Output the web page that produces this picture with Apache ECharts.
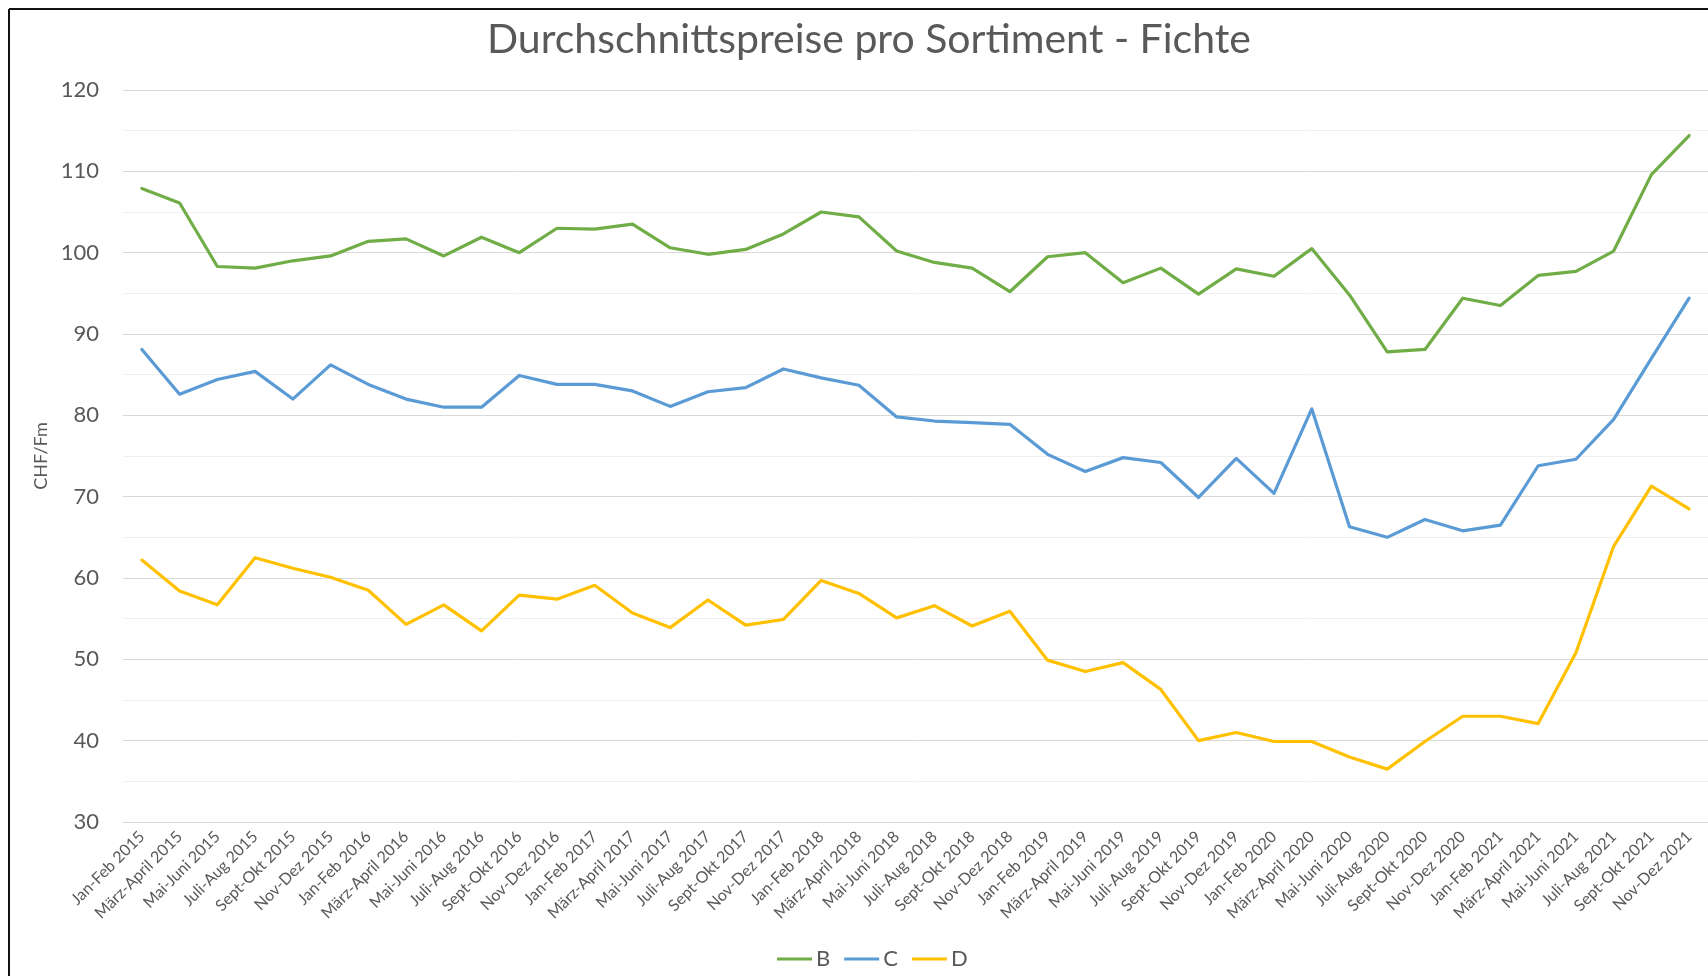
<!DOCTYPE html>
<html>
<head>
<meta charset="utf-8">
<title>Durchschnittspreise pro Sortiment - Fichte</title>
<script src="https://cdn.jsdelivr.net/npm/echarts@6/dist/echarts.min.js"></script>
<style>
  html, body { margin: 0; padding: 0; background: #fff; }
  #main { width: 1708px; height: 976px; }
</style>
</head>
<body>
<div id="main"></div>
<script>
// Kategorien (zweimonatlich)
const categories = [
  "Jan-Feb 2015", "März-April 2015", "Mai-Juni 2015", "Juli-Aug 2015", "Sept-Okt 2015", "Nov-Dez 2015",
  "Jan-Feb 2016", "März-April 2016", "Mai-Juni 2016", "Juli-Aug 2016", "Sept-Okt 2016", "Nov-Dez 2016",
  "Jan-Feb 2017", "März-April 2017", "Mai-Juni 2017", "Juli-Aug 2017", "Sept-Okt 2017", "Nov-Dez 2017",
  "Jan-Feb 2018", "März-April 2018", "Mai-Juni 2018", "Juli-Aug 2018", "Sept-Okt 2018", "Nov-Dez 2018",
  "Jan-Feb 2019", "März-April 2019", "Mai-Juni 2019", "Juli-Aug 2019", "Sept-Okt 2019", "Nov-Dez 2019",
  "Jan-Feb 2020", "März-April 2020", "Mai-Juni 2020", "Juli-Aug 2020", "Sept-Okt 2020", "Nov-Dez 2020",
  "Jan-Feb 2021", "März-April 2021", "Mai-Juni 2021", "Juli-Aug 2021", "Sept-Okt 2021", "Nov-Dez 2021"
];

const seriesNames = ["B", "C", "D"];

const valuesB = [
  107.9, 106.1, 98.3, 98.1, 99.0, 99.6,
  101.4, 101.7, 99.6, 101.9, 100.0, 103.0,
  102.9, 103.5, 100.6, 99.8, 100.4, 102.3,
  105.0, 104.4, 100.2, 98.8, 98.1, 95.2,
  99.5, 100.0, 96.3, 98.1, 94.9, 98.0,
  97.1, 100.5, 94.8, 87.8, 88.1, 94.4,
  93.5, 97.2, 97.7, 100.2, 109.6, 114.4
];

const valuesC = [
  88.1, 82.6, 84.4, 85.4, 82.0, 86.2,
  83.8, 82.0, 81.0, 81.0, 84.9, 83.8,
  83.8, 83.0, 81.1, 82.9, 83.4, 85.7,
  84.6, 83.7, 79.8, 79.3, 79.1, 78.9,
  75.2, 73.1, 74.8, 74.2, 69.9, 74.7,
  70.4, 80.8, 66.3, 65.0, 67.2, 65.8,
  66.5, 73.8, 74.6, 79.5, 87.0, 94.4
];

const valuesD = [
  62.2, 58.4, 56.7, 62.5, 61.2, 60.1,
  58.5, 54.3, 56.7, 53.5, 57.9, 57.4,
  59.1, 55.7, 53.9, 57.3, 54.2, 54.9,
  59.7, 58.1, 55.1, 56.6, 54.1, 55.9,
  49.9, 48.5, 49.6, 46.3, 40.0, 41.0,
  39.9, 39.9, 38.0, 36.5, 39.9, 43.0,
  43.0, 42.1, 50.8, 63.9, 71.3, 68.5
];

const colors = ["#70AD47", "#5B9BD5", "#FFC000"];
const textColor = "#595959";
const fontName = "Lato, 'Open Sans', sans-serif";

function lineSeries(name, data, color) {
  return {
    name: name,
    type: "line",
    data: data,
    symbol: "none",
    smooth: false,
    color: color,
    lineStyle: { width: 3.2, color: color, join: "round", cap: "round" },
    emphasis: { disabled: true }
  };
}

let myChart = echarts.init(document.getElementById("main"));
myChart.setOption({
  animation: false,
  textStyle: { fontFamily: fontName },
  title: {
    text: "Durchschnittspreise pro Sortiment - Fichte",
    left: 482,
    top: 14,
    textStyle: {
      color: textColor,
      fontSize: 41,
      fontWeight: "normal",
      fontFamily: fontName
    }
  },
  legend: {
    data: seriesNames,
    left: 772,
    top: 943,
    icon: "rect",
    itemWidth: 35,
    itemHeight: 3,
    itemGap: 14,
    textStyle: { color: textColor, fontSize: 22, fontFamily: fontName, padding: [0, 0, 0, -1] }
  },
  grid: {
    left: 123,
    top: 90,
    width: 1592,
    height: 732,
    containLabel: false
  },
  xAxis: {
    type: "category",
    data: categories,
    boundaryGap: true,
    axisLine: { show: true, lineStyle: { color: "#D9D9D9", width: 1 } },
    axisTick: { show: false },
    axisLabel: {
      interval: 0,
      rotate: 45,
      margin: 12,
      color: textColor,
      fontSize: 16,
      fontFamily: fontName
    },
    splitLine: { show: false }
  },
  yAxis: {
    type: "value",
    min: 30,
    max: 120,
    interval: 10,
    name: "CHF/Fm",
    nameLocation: "middle",
    nameGap: 72,
    nameRotate: 90,
    nameTextStyle: { color: textColor, fontSize: 18, fontFamily: fontName },
    axisLine: { show: false },
    axisTick: { show: false },
    axisLabel: { color: textColor, fontSize: 22, margin: 24, fontFamily: fontName },
    splitLine: { show: true, lineStyle: { color: "#D9D9D9", width: 1 } },
    minorTick: { show: false, splitNumber: 2 },
    minorSplitLine: { show: true, lineStyle: { color: "#F0F0F0", width: 1 } }
  },
  graphic: [
    { type: "line", shape: { x1: 9, y1: 9, x2: 1708, y2: 9 }, style: { stroke: "#111", lineWidth: 2 } },
    { type: "line", shape: { x1: 9, y1: 9, x2: 9, y2: 976 }, style: { stroke: "#111", lineWidth: 2 } }
  ],
  series: [
    lineSeries(seriesNames[0], valuesB, colors[0]),
    lineSeries(seriesNames[1], valuesC, colors[1]),
    lineSeries(seriesNames[2], valuesD, colors[2])
  ]
});
</script>
</body>
</html>
